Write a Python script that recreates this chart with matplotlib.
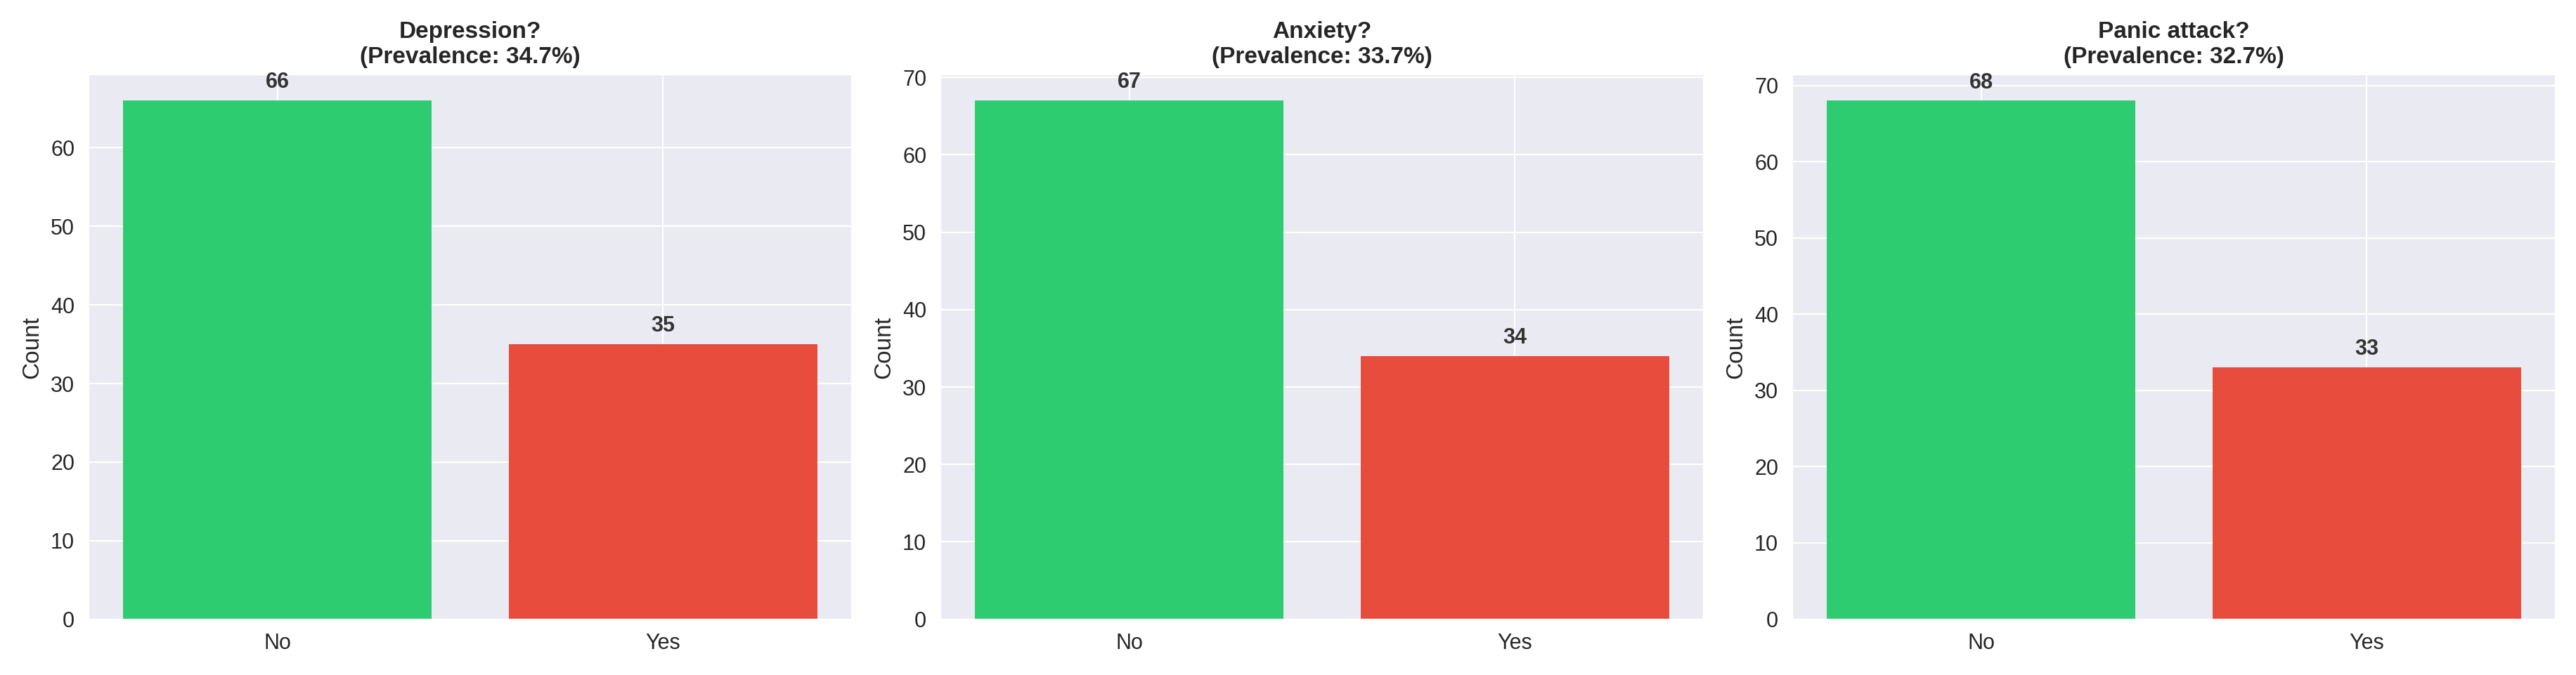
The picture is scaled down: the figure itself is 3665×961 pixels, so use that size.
import matplotlib
matplotlib.use("Agg")
import matplotlib.pyplot as plt
import seaborn as sns

sns.set_style("darkgrid")
plt.rcParams['font.family'] = ['Liberation Sans', 'DejaVu Sans']

titles = ["Depression?", "Anxiety?", "Panic attack?"]
prevalence = [34.7, 33.7, 32.7]
categories = ["No", "Yes"]
no_counts = [66, 67, 68]
yes_counts = [35, 34, 33]
colors = ["#2ecc71", "#e74c3c"]

fig, axes = plt.subplots(1, 3, figsize=(18.33, 4.805), dpi=200)
for ax, t, p, n, y in zip(axes, titles, prevalence, no_counts, yes_counts):
    vals = [n, y]
    bars = ax.bar(categories, vals, color=colors, edgecolor='none', linewidth=0)
    for b, v in zip(bars, vals):
        ax.text(b.get_x() + b.get_width() / 2, v + 1, str(v), ha='center', va='bottom',
                fontweight='bold', fontsize=11, color='#333333')
    ax.set_title(f"{t}\n(Prevalence: {p}%)", fontweight='bold', fontsize=12)
    ax.set_ylabel("Count", fontsize=12)
    ax.tick_params(labelsize=11)
plt.tight_layout()
fig.savefig("out.png", dpi=200)
